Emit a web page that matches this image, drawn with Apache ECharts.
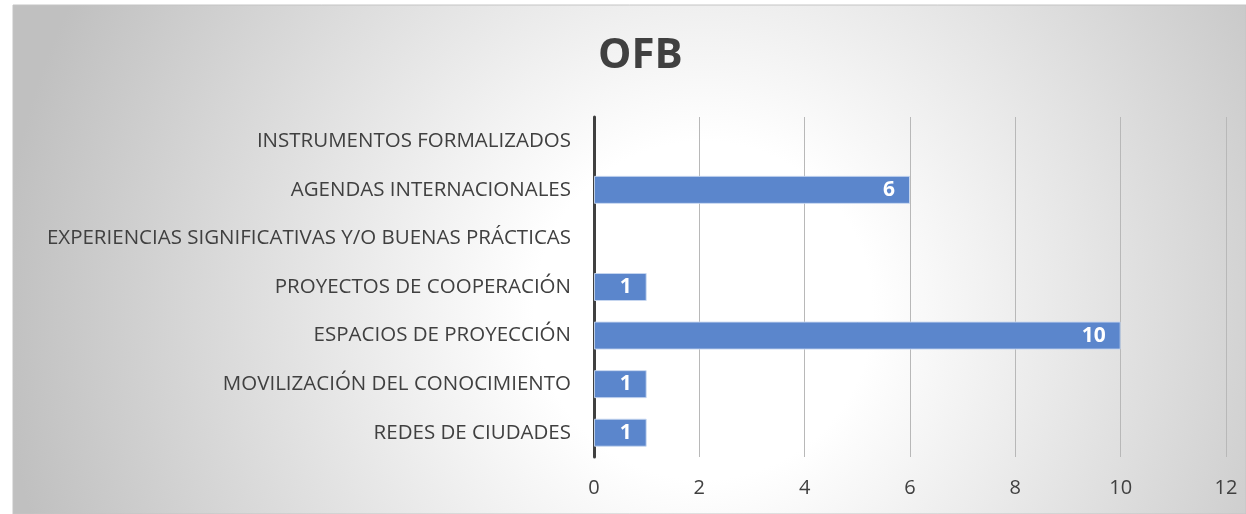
<!DOCTYPE html>
<html>
<head>
<meta charset="utf-8">
<script src="https://cdn.jsdelivr.net/npm/echarts@6/dist/echarts.min.js"></script>
<style>
  html, body { margin: 0; padding: 0; background: #fff; }
  #chart { width: 1246px; height: 514px; }
</style>
</head>
<body>
<div id="chart"></div>
<script>
const categories = [
  'REDES DE CIUDADES',
  'MOVILIZACIÓN DEL CONOCIMIENTO',
  'ESPACIOS DE PROYECCIÓN',
  'PROYECTOS DE COOPERACIÓN',
  'EXPERIENCIAS SIGNIFICATIVAS Y/O BUENAS PRÁCTICAS',
  'AGENDAS INTERNACIONALES',
  'INSTRUMENTOS FORMALIZADOS'
];
const values = [1, 1, 10, 1, null, 6, null];
const axisMax = 12;
const axisStep = 2;

const myChart = echarts.init(document.getElementById('chart'));

let option = {
  animation: false,
  graphic: [{
    type: 'rect',
    z: -10,
    shape: { x: 13, y: 5, width: 1233, height: 509 },
    style: {
      fill: {
        type: 'radial', x: 0.56, y: 0.6, r: 1.38,
        colorStops: [
          { offset: 0.24, color: '#ffffff' },
          { offset: 1, color: '#c0c0c0' }
        ]
      },
      stroke: '#c4c4c4',
      lineWidth: 1
    }
  }],
  title: {
    text: 'OFB',
    left: 593,
    top: 30,
    textStyle: {
      color: '#404040',
      fontFamily: 'Open Sans',
      fontWeight: 'bold',
      fontSize: 42
    }
  },
  grid: {
    left: 594,
    right: 20,
    top: 117,
    bottom: 57
  },
  xAxis: {
    type: 'value',
    min: 0,
    max: axisMax,
    interval: axisStep,
    axisLine: { show: false },
    axisTick: { show: false },
    splitLine: { lineStyle: { color: '#b8b8b8', width: 1 } },
    axisLabel: {
      color: '#404040',
      fontFamily: 'Open Sans',
      fontSize: 20,
      margin: 21
    }
  },
  yAxis: {
    type: 'category',
    data: categories,
    axisLine: { lineStyle: { color: '#404040', width: 3 } },
    axisTick: { show: false },
    axisLabel: {
      color: '#404040',
      fontFamily: 'Open Sans',
      fontSize: 20.5,
      margin: 23
    }
  },
  series: [{
    type: 'bar',
    data: values,
    barWidth: 28,
    itemStyle: {
      color: '#5b86cc',
      borderColor: 'rgba(200,215,240,0.9)',
      borderWidth: 1
    },
    label: {
      show: true,
      position: 'insideRight',
      distance: 15,
      color: '#ffffff',
      fontFamily: 'Open Sans',
      fontWeight: 'bold',
      fontSize: 21
    }
  }]
};

myChart.setOption(option);
</script>
</body>
</html>
